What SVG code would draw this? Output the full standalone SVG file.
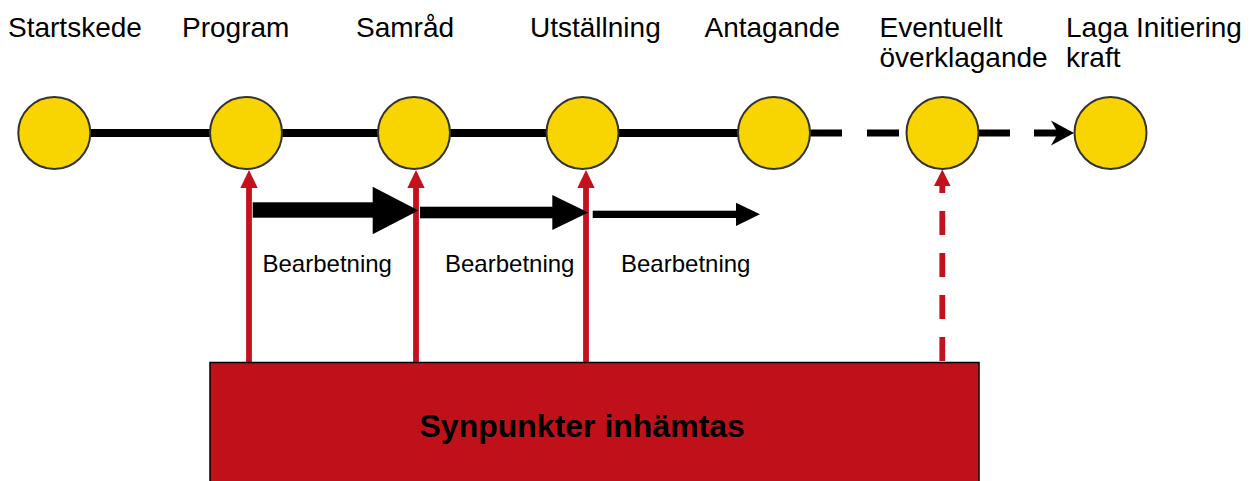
<svg xmlns="http://www.w3.org/2000/svg" width="1255" height="481" viewBox="0 0 1255 481">
<style>
.lbl{font-family:"Liberation Sans",Arial,sans-serif;font-size:28px;fill:#000}
.bb{font-family:"Liberation Sans",Arial,sans-serif;font-size:24px;fill:#000}
.big{font-family:"Liberation Sans",Arial,sans-serif;font-size:32px;font-weight:bold;fill:#000}
.node{fill:#F8D401;stroke:#333;stroke-width:2}
.red{stroke:#C4121C;stroke-width:5.8;fill:none}
.redhead{fill:#C4121C}
.blk{stroke:#000;fill:none}
</style>
<rect width="1255" height="481" fill="#fff"/>
<g id="connectors">
  <line class="blk" x1="90" y1="133" x2="738" y2="133" stroke-width="8"/>
  <line class="blk" x1="810" y1="133" x2="906" y2="133" stroke-width="7" stroke-dasharray="32 25"/>
  <line class="blk" x1="979" y1="133" x2="1058" y2="133" stroke-width="7" stroke-dasharray="31 24"/>
  <polygon points="1074,133 1051,120.5 1058,133 1051,145.5" fill="#000"/>
  <line class="red" x1="249" y1="362" x2="249" y2="186"/>
  <polygon class="redhead" points="249,170 240.3,188 257.7,188"/>
  <line class="red" x1="416" y1="362" x2="416" y2="186"/>
  <polygon class="redhead" points="416,170 407.3,188 424.7,188"/>
  <line class="red" x1="586" y1="362" x2="586" y2="186"/>
  <polygon class="redhead" points="586,170 577.3,188 594.7,188"/>
  <line class="red" x1="942.3" y1="361" x2="942.3" y2="186" stroke-dasharray="24 18"/>
  <polygon class="redhead" points="942.3,169.5 934,186 950.6,186"/>
  <rect x="252.7" y="202.3" width="121" height="15.4" fill="#000"/>
  <polygon points="372.7,186.7 418.5,210.5 372.7,234.3" fill="#000"/>
  <rect x="420" y="206.7" width="133" height="11.6" fill="#000"/>
  <polygon points="552.3,195 588.3,212.5 552.3,230" fill="#000"/>
  <rect x="592.7" y="210.7" width="144" height="7.3" fill="#000"/>
  <polygon points="736,202.7 760,214.3 736,226" fill="#000"/>
</g>
<g id="n-startskede"><circle class="node" cx="54.3" cy="133" r="36"/><text class="lbl" x="8" y="36.5">Startskede</text></g>
<g id="n-program"><circle class="node" cx="246" cy="133" r="36"/><text class="lbl" x="182" y="36.5">Program</text></g>
<g id="n-samrad"><circle class="node" cx="414" cy="133" r="36"/><text class="lbl" x="356" y="36.5">Samråd</text></g>
<g id="n-utstallning"><circle class="node" cx="582.5" cy="133" r="36"/><text class="lbl" x="530" y="36.5">Utställning</text></g>
<g id="n-antagande"><circle class="node" cx="774" cy="133" r="36"/><text class="lbl" x="704.5" y="36.5">Antagande</text></g>
<g id="n-overklagande"><circle class="node" cx="942.5" cy="133" r="36"/><text class="lbl" x="879.5" y="36.5">Eventuellt</text><text class="lbl" x="879.5" y="66.5">överklagande</text></g>
<g id="n-lagakraft"><circle class="node" cx="1110.5" cy="133" r="36"/><text class="lbl" x="1066" y="36.5">Laga Initiering</text><text class="lbl" x="1066" y="66.5">kraft</text></g>
<g id="labels-bearbetning">
  <text class="bb" x="262.5" y="272">Bearbetning</text>
  <text class="bb" x="445" y="272">Bearbetning</text>
  <text class="bb" x="621" y="272">Bearbetning</text>
</g>
<g id="n-synpunkter">
  <rect x="210" y="362.5" width="769" height="130" fill="#C0111B" stroke="#000" stroke-width="1.5"/>
  <text class="big" x="419.5" y="437">Synpunkter inhämtas</text>
</g>
</svg>
